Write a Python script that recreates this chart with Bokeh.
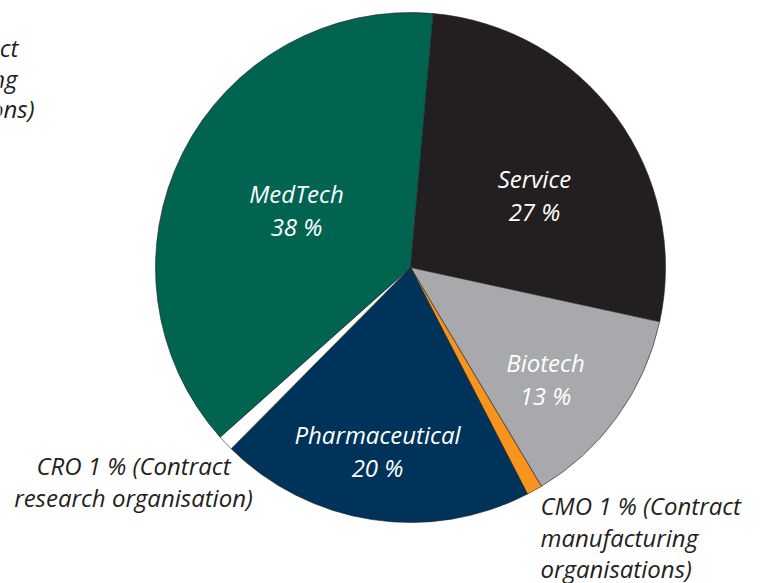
import math
from bokeh.plotting import figure
from bokeh.models import ColumnDataSource, Range1d
from bokeh.core.properties import value
from bokeh.embed import file_html
from bokeh.resources import INLINE

# ---- data (clockwise from the top) ----
categories = ["Service", "Biotech", "CMO", "Pharmaceutical", "CRO", "MedTech"]
shares = [27, 13, 1, 20, 1, 38]
long_names = {"CMO": ["(Contract", "manufacturing", "organisations)"],
              "CRO": ["(Contract", "research organisation)"]}
colors = ["#231f20", "#a7a9ac", "#f7941d", "#003359", "#ffffff", "#006450"]

# ---- layout ----
W, H = 752, 583
CX, CY, R = 410, 267, 255          # screen pixels
START = 5.1                        # degrees clockwise from 12 o'clock
FONT = "Open Sans"
FS = "24px"
DARK = "#231f20"

def sy(y):
    return H - y

p = figure(width=W, height=H, x_range=Range1d(0, W), y_range=Range1d(0, H),
           output_backend="svg", toolbar_location=None, min_border=0)
p.axis.visible = False
p.grid.visible = False
p.outline_line_color = None
p.background_fill_color = "white"
p.border_fill_color = "white"

total = sum(shares)
starts, ends = [], []
acc = START
for s in shares:
    a0 = acc
    a1 = acc + 360.0 * s / total
    acc = a1
    starts.append(math.radians(90 - a1))
    ends.append(math.radians(90 - a0))

src = ColumnDataSource(dict(cat=categories, share=shares, color=colors,
                            start=starts, end=ends,
                            x=[CX] * len(shares), y=[sy(CY)] * len(shares)))
p.wedge(x="x", y="y", radius=R, start_angle="start", end_angle="end",
        fill_color="color", line_color=DARK, line_width=0.6, source=src)

# ---- labels ----
inside_anchor = {"Service": (534, 178), "Biotech": (545, 362),
                 "Pharmaceutical": (377, 434), "MedTech": (296, 193)}
lx, ly, lt, lc, la = [], [], [], [], []
for cat, s in zip(categories, shares):
    if cat in inside_anchor:
        x0, y0 = inside_anchor[cat]
        for i, t in enumerate([cat, f"{s} %"]):
            lx.append(x0); ly.append(sy(y0 + 33 * i)); lt.append(t)
            lc.append("white"); la.append("center")
    elif cat == "CRO":
        lines = [f"{cat} {s} % {long_names[cat][0]}", long_names[cat][1]]
        for i, t in enumerate(lines):
            lx.append(133); ly.append(sy(465 + 32 * i)); lt.append(t)
            lc.append(DARK); la.append("center")
    elif cat == "CMO":
        lines = [f"{cat} {s} % {long_names[cat][0]}"] + long_names[cat][1:]
        for i, t in enumerate(lines):
            lx.append(540); ly.append(sy(505 + 31.5 * i)); lt.append(t)
            lc.append(DARK); la.append("left")

lsrc = ColumnDataSource(dict(x=lx, y=ly, text=lt, color=lc, align=la))
p.text(x="x", y="y", text="text", text_color="color", text_align="align",
       text_baseline="middle", text_font=value(FONT), text_font_size=FS,
       text_font_style="italic", source=lsrc)

# fragment of a neighbouring label, cut off by the left edge
frag = ["Contract", "manufacturing", "organisations)"]
fsrc = ColumnDataSource(dict(x=[18, 17, 34], y=[sy(47), sy(78), sy(108)], text=frag))
p.text(x="x", y="y", text="text", text_color=DARK, text_align="right",
       text_baseline="middle", text_font=value(FONT), text_font_size=FS,
       text_font_style="italic", source=fsrc)

open("out.html", "w").write(file_html(p, INLINE))
